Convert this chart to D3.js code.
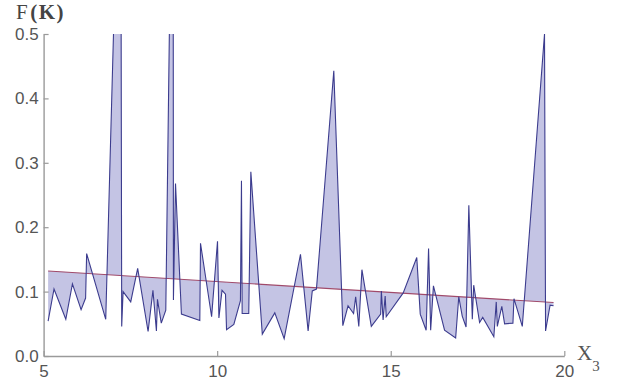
<!DOCTYPE html>
<html>
<head>
<meta charset="utf-8">
<script src="https://cdn.jsdelivr.net/npm/d3@7"></script>
<style>
  html, body { margin: 0; padding: 0; background: #fff; }
  svg { display: block; }
</style>
</head>
<body>
<svg id="chart" width="620" height="381"></svg>
<script>
// ---- data ----
const xValues = [5.13, 5.30, 5.64, 5.83, 6.08, 6.21, 6.24, 6.79, 7.22, 7.25,
  7.29, 7.51, 7.71, 8.01, 8.15, 8.25, 8.28, 8.39, 8.52, 8.73,
  8.74, 8.80, 8.97, 9.50, 9.52, 9.84, 10.01, 10.05, 10.14, 10.24,
  10.27, 10.48, 10.67, 10.70, 10.72, 10.91, 10.97, 11.30, 11.66, 11.93,
  12.40, 12.62, 12.74, 12.86, 13.36, 13.62, 13.77, 13.93, 13.99, 14.08,
  14.17, 14.44, 14.71, 14.73, 14.78, 14.84, 14.87, 15.36, 15.75, 15.85,
  16.02, 16.09, 16.15, 16.23, 16.55, 16.87, 16.96, 17.06, 17.17, 17.25,
  17.35, 17.39, 17.56, 17.65, 17.97, 18.04, 18.07, 18.20, 18.28, 18.52,
  18.55, 18.79, 19.43, 19.46, 19.59, 19.69];
const fValues = [0.054, 0.104, 0.057, 0.112, 0.072, 0.090, 0.159, 0.057, 0.91, 0.046,
  0.100, 0.084, 0.136, 0.038, 0.102, 0.039, 0.088, 0.051, 0.071, 0.95,
  0.087, 0.268, 0.065, 0.055, 0.175, 0.061, 0.178, 0.059, 0.102, 0.096,
  0.041, 0.049, 0.086, 0.272, 0.066, 0.066, 0.286, 0.034, 0.067, 0.027,
  0.158, 0.039, 0.101, 0.104, 0.443, 0.047, 0.078, 0.066, 0.092, 0.046,
  0.134, 0.046, 0.065, 0.101, 0.056, 0.093, 0.061, 0.098, 0.153, 0.065,
  0.040, 0.167, 0.040, 0.109, 0.040, 0.028, 0.092, 0.062, 0.045, 0.234,
  0.057, 0.110, 0.052, 0.060, 0.030, 0.084, 0.046, 0.077, 0.050, 0.051,
  0.089, 0.046, 0.500, 0.039, 0.079, 0.078];
// regression line endpoints
const regX = [5.13, 19.69];
const regF = [0.132, 0.083];
const xTicks = [5, 10, 15, 20];
const yTicks = [0, 0.1, 0.2, 0.3, 0.4, 0.5];

// ---- layout ----
const svg = d3.select("#chart");
const x = d3.scaleLinear().domain([5, 20]).range([43.6, 564.3]);
const y = d3.scaleLinear().domain([0, 0.5]).range([356, 34]);
const reg = d3.scaleLinear().domain(regX).range(regF);

const data = xValues.map((d, i) => ({x: d, f: fValues[i], r: reg(d)}));

svg.append("defs").append("clipPath").attr("id", "clip")
  .append("rect").attr("x", x(5)).attr("y", y(0.5))
  .attr("width", x(20) - x(5)).attr("height", y(0) - y(0.5));

const plot = svg.append("g").attr("clip-path", "url(#clip)");

plot.append("path").datum(data)
  .attr("d", d3.area().x(d => x(d.x)).y0(d => y(d.r)).y1(d => y(d.f)))
  .attr("fill", "#c4c4e4").attr("stroke", "none");

plot.append("path").datum(regX.map((d, i) => ({x: d, f: regF[i]})))
  .attr("d", d3.line().x(d => x(d.x)).y(d => y(d.f)))
  .attr("fill", "none").attr("stroke", "#a04a6a").attr("stroke-width", 1.1);

plot.append("path").datum(data)
  .attr("d", d3.line().x(d => x(d.x)).y(d => y(d.f)))
  .attr("fill", "none").attr("stroke", "#3c3c8e").attr("stroke-width", 1.1)
  .attr("stroke-linejoin", "miter");

// ---- axes ----
const xAxis = d3.axisBottom(x).tickValues(xTicks).tickFormat(d3.format("d"))
  .tickSizeInner(-5).tickSizeOuter(0).tickPadding(9);
const yAxis = d3.axisLeft(y).tickValues(yTicks).tickFormat(d3.format(".1f"))
  .tickSizeInner(-5).tickSizeOuter(0).tickPadding(5);

const gx = svg.append("g").attr("transform", `translate(0,${y(0)})`).call(xAxis);
const gy = svg.append("g").attr("transform", `translate(${x(5)},0)`).call(yAxis);

[gx, gy].forEach(g => {
  g.select(".domain").attr("stroke", "#9a9a9a").attr("stroke-width", 1.4);
  g.selectAll(".tick line").attr("stroke", "#9a9a9a").attr("stroke-width", 1.2);
  g.selectAll(".tick text").attr("fill", "#555")
    .style("font-family", "'Liberation Sans', Arial, sans-serif").style("font-size", "17px");
});

// axis titles
const fl = svg.append("text").attr("x", 16).attr("y", 19)
  .style("font-family", "'Liberation Serif', 'Times New Roman', serif")
  .style("font-size", "21px").style("letter-spacing", "1.5px").attr("fill", "#444");
fl.append("tspan").text("F");
fl.append("tspan").attr("font-weight", "bold").attr("dx", 1).text("(K)");

const xl = svg.append("text").attr("x", 577).attr("y", 360)
  .style("font-family", "'Liberation Serif', 'Times New Roman', serif")
  .style("font-size", "21px").attr("fill", "#555");
xl.append("tspan").text("X");
xl.append("tspan").attr("dy", 11).style("font-size", "15px").text("3");
</script>
</body>
</html>
